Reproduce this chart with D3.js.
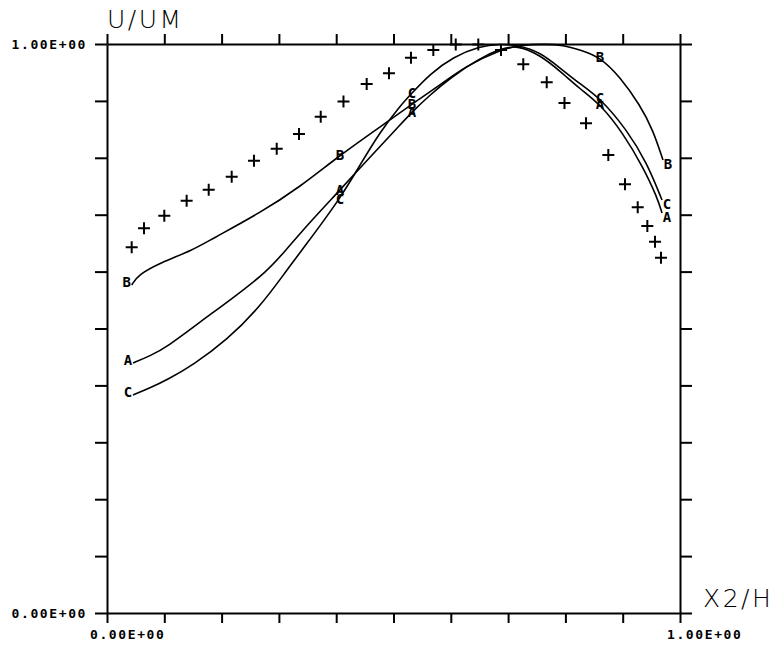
<!DOCTYPE html>
<html>
<head>
<meta charset="utf-8">
<script src="https://cdn.jsdelivr.net/npm/d3@7"></script>
<style>
  body { margin: 0; background: #fff; }
  .tl { font-family: "DejaVu Sans Mono", monospace; font-weight: bold; font-size: 13px; letter-spacing: 1.6px; }
  .ttl { font-family: "DejaVu Sans", sans-serif; font-weight: 200; font-size: 25px; letter-spacing: 2.5px; }
  .lab { font-family: "DejaVu Sans Mono", monospace; font-weight: bold; font-size: 14px; }
</style>
</head>
<body>
<div id="chart"></div>
<script>
// measured profile (+)
const plusX = [0.0431, 0.0646, 0.1, 0.139, 0.1775, 0.2176, 0.2565, 0.2962, 0.3351, 0.373,
  0.4127, 0.4532, 0.4921, 0.5305, 0.5695, 0.6086, 0.648, 0.6876, 0.7265, 0.7674,
  0.7984, 0.836, 0.8749, 0.904, 0.9262, 0.943, 0.9564, 0.9668];
const plusY = [0.6427, 0.6761, 0.6982, 0.7246, 0.7439, 0.7668, 0.7949, 0.816, 0.8418, 0.8722,
  0.899, 0.9297, 0.9485, 0.9759, 0.9895, 0.999, 0.999, 0.9895, 0.9643, 0.9327,
  0.8963, 0.8606, 0.8049, 0.7534, 0.713, 0.6801, 0.6525, 0.6244];

// computed curves
const aX = [0.0454, 0.075, 0.1047, 0.1623, 0.2199, 0.2792, 0.3106, 0.3543, 0.4066, 0.459, 0.5113, 0.5323,
  0.5637, 0.5986, 0.651, 0.6859, 0.7155, 0.7557, 0.7906, 0.8255, 0.8604, 0.9005, 0.9354, 0.9599, 0.9686];
const aY = [0.4394, 0.4517, 0.4675, 0.5114, 0.5536, 0.6, 0.636, 0.6872, 0.7434, 0.8014, 0.8576, 0.8805,
  0.9104, 0.9402, 0.9754, 0.9912, 0.9982, 0.9807, 0.9525, 0.9209, 0.8946, 0.8436, 0.7838, 0.7311, 0.703];
const aLab = [0, 8, 11, 20, 24];

const bX = [0.0431, 0.0541, 0.0925, 0.1501, 0.1798, 0.267, 0.3368, 0.4066, 0.4939, 0.5323, 0.5689,
  0.6283, 0.6859, 0.7208, 0.7644, 0.7958, 0.8255, 0.8604, 0.8953, 0.9302, 0.9529, 0.9703];
const bY = [0.5764, 0.594, 0.6151, 0.638, 0.6555, 0.703, 0.7487, 0.8049, 0.8664, 0.8946, 0.9192,
  0.9631, 0.9895, 0.9982, 1.0, 0.9982, 0.9895, 0.9772, 0.942, 0.8928, 0.8489, 0.7961];
const bLab = [0, 7, 9, 17, 21];

const cX = [0.0454, 0.075, 0.1047, 0.1501, 0.2094, 0.267, 0.3141, 0.3403, 0.4066, 0.4415, 0.4764, 0.5113,
  0.5323, 0.5637, 0.6038, 0.651, 0.6859, 0.7155, 0.7557, 0.7906, 0.8255, 0.8604, 0.9075, 0.9424, 0.9686];
const cY = [0.3831, 0.3954, 0.4095, 0.4359, 0.4798, 0.5378, 0.6028, 0.638, 0.7276, 0.7873, 0.8453, 0.891,
  0.9139, 0.9473, 0.9772, 0.9965, 1.0, 0.9982, 0.9859, 0.9578, 0.9297, 0.9051, 0.8489, 0.7909, 0.7258];
const cLab = [0, 8, 12, 21, 24];

const tickVals = [0, 0.1, 0.2, 0.3, 0.4, 0.5, 0.6, 0.7, 0.8, 0.9, 1];
const xTickLabels = ["0.00E+00", "1.00E+00"];
const yTickLabels = ["0.00E+00", "1.00E+00"];

const W = 779, H = 645;
const margin = {top: 44, left: 107, right: 99, bottom: 32};
const w = W - margin.left - margin.right;
const h = H - margin.top - margin.bottom;

const svg = d3.select("#chart").append("svg")
  .attr("width", W).attr("height", H)
  .style("background", "#fff");
const g = svg.append("g").attr("transform", "translate(" + margin.left + "," + margin.top + ")");

const x = d3.scaleLinear().domain([0, 1]).range([0, w]);
const y = d3.scaleLinear().domain([0, 1]).range([h, 0]);

function frame(sel) {
  sel.selectAll("path, line").attr("stroke", "#000").attr("stroke-width", 2);
}
g.append("g").call(d3.axisTop(x).tickValues(tickVals).tickSize(10).tickSizeOuter(0).tickFormat("")).call(frame);
g.append("g").attr("transform", "translate(0," + h + ")")
  .call(d3.axisBottom(x).tickValues(tickVals).tickSize(10).tickSizeOuter(0).tickFormat("")).call(frame);
g.append("g").call(d3.axisLeft(y).tickValues(tickVals).tickSize(12).tickSizeOuter(0).tickFormat("")).call(frame);
g.append("g").attr("transform", "translate(" + w + ",0)")
  .call(d3.axisRight(y).tickValues(tickVals).tickSize(12).tickSizeOuter(0).tickFormat("")).call(frame);

// tick labels
g.selectAll(".ylab").data(yTickLabels).enter().append("text")
  .attr("class", "tl")
  .attr("x", -20).attr("y", (d, i) => y(i) + 5)
  .attr("text-anchor", "end").text(d => d);
g.selectAll(".xlab").data(xTickLabels).enter().append("text")
  .attr("class", "tl")
  .attr("x", (d, i) => x(i) - (i ? 13 : 17)).attr("y", h + 26)
  .text(d => d);

// axis titles
svg.append("text").attr("class", "ttl").attr("x", 107).attr("y", 28).text("U/UM");
svg.append("text").attr("class", "ttl").attr("x", 703).attr("y", 607).text("X2/H");

// curves
const line = d3.line().x(d => x(d[0])).y(d => y(d[1])).curve(d3.curveBasis);
const series = [
  {name: "A", xs: aX, ys: aY, lab: aLab},
  {name: "B", xs: bX, ys: bY, lab: bLab},
  {name: "C", xs: cX, ys: cY, lab: cLab}
];
series.forEach(s => {
  const pts = s.xs.map((v, i) => [v, s.ys[i]]);
  g.append("path").datum(pts)
    .attr("d", line)
    .attr("fill", "none")
    .attr("stroke", "#000")
    .attr("stroke-width", 1.6);
  g.selectAll(".l" + s.name).data(s.lab).enter().append("text")
    .attr("class", "lab")
    .attr("x", (k, j) => x(pts[k][0]) + (j === 0 ? -5 : j === s.lab.length - 1 ? 5 : 0))
    .attr("y", (k, j) => y(pts[k][1]) + 5 + (j === 0 ? -3 : j === s.lab.length - 1 ? 4 : 0))
    .attr("text-anchor", "middle")
    .text(s.name);
});

// plus markers
g.selectAll(".plus").data(plusX).enter().append("path")
  .attr("transform", (d, i) => "translate(" + x(d) + "," + y(plusY[i]) + ")")
  .attr("d", "M-6,0H6M0,-6V6")
  .attr("stroke", "#000")
  .attr("stroke-width", 2);
</script>
</body>
</html>
